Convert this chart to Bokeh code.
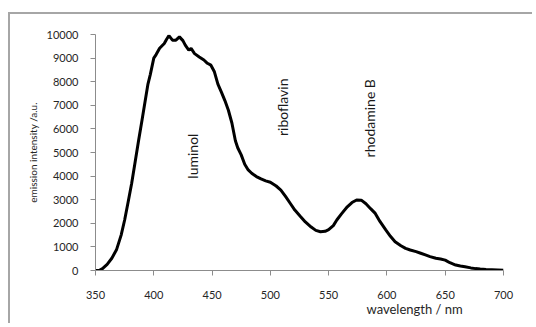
import math
from bokeh.plotting import figure
from bokeh.models import Label, FixedTicker, Title
from bokeh.embed import file_html
from bokeh.resources import INLINE

wavelength = [350, 353, 356, 360, 364, 368, 372, 375, 378, 381, 384, 387, 390, 392, 395, 397,
              400, 402, 405, 409, 411, 413, 416, 419, 422, 425, 427, 430, 432, 435, 439, 443,
              446, 449, 452, 455, 458, 461, 464, 467, 470, 472, 475, 478, 481, 484, 488, 492,
              496, 500, 505, 509, 513, 517, 521, 526, 530, 535, 539, 543, 547, 550, 554, 557,
              561, 566, 570, 574, 578, 582, 586, 590, 594, 599, 603, 607, 612, 616, 620, 625,
              629, 633, 637, 642, 646, 650, 654, 659, 663, 667, 672, 676, 680, 685, 690, 695, 700]
intensity = [0, 0, 80, 260, 520, 875, 1500, 2140, 2900, 3690, 4600, 5520, 6400, 7000, 7900, 8300,
             9000, 9150, 9420, 9620, 9800, 9950, 9760, 9760, 9900, 9740, 9550, 9340, 9410, 9190, 9050, 8920,
             8780, 8700, 8420, 7900, 7560, 7200, 6790, 6250, 5500, 5200, 4900, 4500, 4260, 4120, 3980, 3880,
             3800, 3740, 3580, 3410, 3140, 2850, 2560, 2280, 2060, 1840, 1700, 1640, 1660, 1730, 1900, 2140,
             2400, 2700, 2880, 2990, 2980, 2830, 2620, 2420, 2080, 1720, 1450, 1220, 1050, 940, 870, 800,
             730, 660, 590, 520, 490, 440, 330, 230, 190, 160, 110, 80, 60, 40, 30, 20, 10]

x_ticks = [350, 400, 450, 500, 550, 600, 650, 700]
y_ticks = [0, 1000, 2000, 3000, 4000, 5000, 6000, 7000, 8000, 9000, 10000]

annot_text = ["luminol", "riboflavin", "rhodamine B"]
annot_x = [433.5, 510.6, 585.1]
annot_y = [4846, 6916, 6451]

FONT = "Lato"
AXIS_COLOR = "#8c8c8c"
TEXT_COLOR = "#262626"

p = figure(width=524, height=311, output_backend="svg", toolbar_location=None,
           x_range=(350, 700), y_range=(0, 10000),
           min_border_left=85, min_border_right=31, min_border_top=20, min_border_bottom=55)
p.styles = {"margin-left": "8px", "margin-top": "12px",
            "border-left": "2px solid #a6a6a6", "border-top": "2px solid #a6a6a6"}

p.outline_line_color = None
p.grid.grid_line_color = None

p.line(wavelength, intensity, line_color="black", line_width=3)

p.xaxis.ticker = FixedTicker(ticks=x_ticks)
p.yaxis.ticker = FixedTicker(ticks=y_ticks)
for ax in (p.xaxis[0], p.yaxis[0]):
    ax.axis_line_color = AXIS_COLOR
    ax.major_tick_line_color = AXIS_COLOR
    ax.major_tick_out = 5
    ax.major_tick_in = 0
    ax.minor_tick_line_color = None
    ax.major_label_text_font = FONT
    ax.major_label_text_font_size = "11px"
    ax.major_label_text_color = TEXT_COLOR
p.xaxis.major_label_standoff = 15
p.yaxis.major_label_standoff = 12

p.yaxis.axis_label = "emission intensity /a.u."
p.yaxis.axis_label_text_font = FONT
p.yaxis.axis_label_text_font_size = "10px"
p.yaxis.axis_label_text_font_style = "normal"
p.yaxis.axis_label_text_color = TEXT_COLOR
p.yaxis.axis_label_standoff = 5

p.add_layout(Title(text="wavelength / nm", align="left", offset=271, standoff=-5,
                   text_font=FONT, text_font_size="13px", text_font_style="normal",
                   text_color=TEXT_COLOR), "below")

for t, ax_, ay_ in zip(annot_text, annot_x, annot_y):
    p.add_layout(Label(x=ax_, y=ay_, text=t, angle=math.pi / 2, text_align="center",
                       text_baseline="middle", text_font=FONT, text_font_size="14px",
                       text_color="#1a1a1a"))

open("out.html", "w").write(file_html(p, INLINE))
